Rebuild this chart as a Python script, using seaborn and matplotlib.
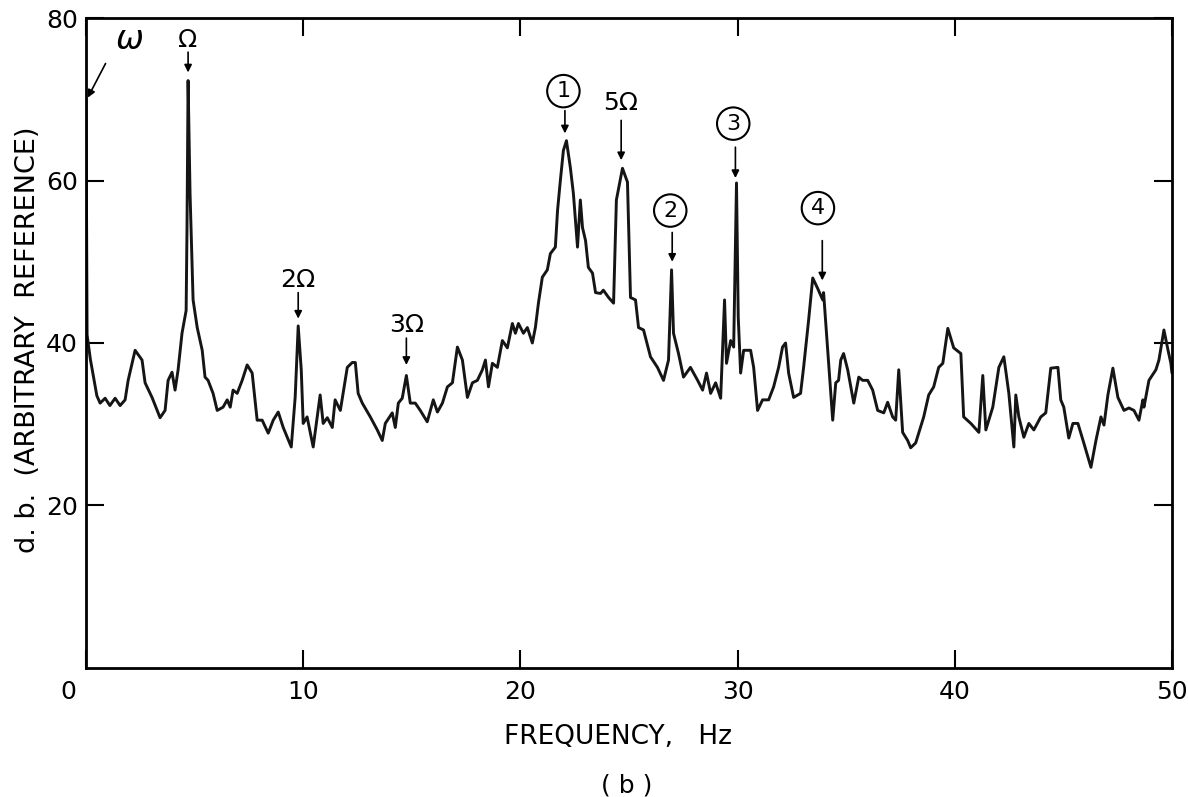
import matplotlib
matplotlib.use("Agg")
import matplotlib.pyplot as plt
import matplotlib.transforms as mtransforms
import seaborn as sns
import pandas as pd

# ---- data (frequency in Hz, level in d.b.) ----
freq = [0.00, 0.05, 0.20, 0.50, 0.65, 0.88, 1.10, 1.34, 1.57, 1.80, 1.94, 2.26, 2.58, 2.72,
        3.04, 3.41, 3.64, 3.78, 3.96, 4.10, 4.24, 4.42, 4.61, 4.65, 4.70, 4.79, 4.93, 5.12,
        5.35, 5.48, 5.62, 5.85, 6.04, 6.31, 6.50, 6.64, 6.77, 6.96, 7.19, 7.42, 7.65, 7.88,
        8.11, 8.39, 8.62, 8.85, 9.08, 9.45, 9.63, 9.77, 9.91, 10.00, 10.18, 10.46, 10.78,
        10.92, 11.11, 11.34, 11.47, 11.71, 12.03, 12.26, 12.40, 12.53, 12.72, 13.09, 13.41,
        13.64, 13.78, 14.10, 14.24, 14.38, 14.56, 14.75, 14.93, 15.16, 15.39, 15.71, 15.99,
        16.18, 16.41, 16.64, 16.87, 17.10, 17.33, 17.56, 17.79, 18.02, 18.25, 18.39, 18.53,
        18.71, 18.94, 19.17, 19.40, 19.63, 19.77, 19.91, 20.14, 20.32, 20.55, 20.69, 20.83,
        21.01, 21.24, 21.38, 21.61, 21.71, 21.84, 21.98, 22.12, 22.30, 22.44, 22.63, 22.76,
        22.86, 23.00, 23.13, 23.32, 23.46, 23.69, 23.82, 24.06, 24.29, 24.42, 24.70, 24.93,
        25.07, 25.30, 25.44, 25.67, 25.99, 26.31, 26.59, 26.82, 26.96, 27.05, 27.28, 27.51,
        27.83, 28.16, 28.39, 28.57, 28.76, 28.99, 29.22, 29.40, 29.49, 29.68, 29.82, 29.95,
        30.03, 30.14, 30.28, 30.60, 30.74, 30.92, 31.15, 31.43, 31.66, 31.89, 32.07, 32.21,
        32.35, 32.58, 32.90, 33.04, 33.27, 33.46, 33.69, 33.92, 33.96, 34.15, 34.38, 34.52,
        34.65, 34.75, 34.88, 35.07, 35.35, 35.58, 35.76, 35.99, 36.22, 36.45, 36.73, 36.91,
        37.14, 37.28, 37.42, 37.60, 37.83, 37.97, 38.20, 38.57, 38.80, 39.03, 39.26, 39.45,
        39.68, 39.95, 40.28, 40.41, 40.74, 41.11, 41.29, 41.43, 41.75, 42.03, 42.26, 42.49,
        42.72, 42.81, 42.95, 43.18, 43.41, 43.64, 43.96, 44.19, 44.42, 44.75, 44.88, 45.02,
        45.25, 45.44, 45.67, 45.94, 46.27, 46.50, 46.73, 46.87, 47.05, 47.28, 47.51, 47.79,
        48.02, 48.25, 48.48, 48.66, 48.71, 48.94, 49.26, 49.40, 49.63, 49.82, 49.95, 50.00]

level = [70.0, 41.0, 38.0, 33.5, 32.6, 33.2, 32.3, 33.2, 32.3, 33.0, 35.4, 39.1, 37.9, 35.1,
         33.3, 30.8, 31.7, 35.4, 36.4, 34.2, 36.7, 41.2, 44.0, 54.2, 72.3, 58.4, 45.3, 41.9,
         39.1, 35.8, 35.4, 33.8, 31.7, 32.1, 33.0, 32.1, 34.2, 33.8, 35.4, 37.3, 36.3, 30.5,
         30.5, 28.9, 30.5, 31.5, 29.6, 27.2, 33.3, 42.1, 36.7, 30.1, 30.9, 27.2, 33.6,
         30.1, 30.8, 29.6, 33.0, 31.7, 37.0, 37.6, 37.6, 33.8, 32.6, 30.9, 29.3,
         28.0, 30.1, 31.4, 29.6, 32.6, 33.2, 36.0, 32.6, 32.6, 31.7, 30.3, 33.0,
         31.5, 32.6, 34.6, 35.1, 39.5, 37.9, 33.3, 35.1, 35.4, 36.7, 37.9, 34.6,
         37.5, 37.0, 40.3, 39.4, 42.4, 41.2, 42.4, 41.2, 41.9, 40.0, 41.9, 44.9,
         48.1, 49.0, 51.0, 51.8, 56.3, 60.0, 63.7, 64.9, 61.6, 58.4, 51.8, 57.6,
         54.2, 52.6, 49.3, 48.6, 46.2, 46.1, 46.5, 45.6, 44.9, 57.6, 61.5, 59.8,
         45.6, 45.3, 41.9, 41.6, 38.3, 37.0, 35.4, 37.9, 49.0, 41.2, 38.7, 35.8,
         37.0, 35.4, 34.2, 36.3, 33.8, 35.1, 33.2, 45.3, 37.5, 40.3, 39.5, 59.7,
         43.2, 36.3, 39.1, 39.1, 37.0, 31.7, 33.0, 33.0, 34.6, 37.0, 39.5, 40.0,
         36.3, 33.3, 33.8, 37.0, 42.8, 48.0, 46.7, 45.3, 46.2, 39.1, 30.5, 35.1,
         35.4, 37.9, 38.7, 36.7, 32.6, 35.8, 35.4, 35.4, 34.2, 31.7, 31.4, 32.7,
         30.9, 30.5, 36.7, 29.0, 28.0, 27.1, 27.7, 30.9, 33.6, 34.6, 37.0, 37.5,
         41.8, 39.4, 38.7, 30.9, 30.1, 29.0, 36.0, 29.3, 32.1, 37.0, 38.3, 33.8,
         27.2, 33.6, 30.9, 28.4, 30.1, 29.3, 30.9, 31.4, 36.9, 37.0, 33.0, 32.1,
         28.3, 30.1, 30.1, 27.7, 24.7, 28.0, 30.9, 29.9, 33.6, 36.9, 33.3, 31.7,
         32.0, 31.7, 30.5, 33.0, 32.1, 35.4, 36.7, 37.9, 41.6, 39.1, 37.5, 36.3]

x_ticks = [0, 10, 20, 30, 40, 50]
x_tick_labels = ["0", "10", "20", "30", "40", "50"]
y_ticks = [20, 40, 60, 80]
y_tick_labels = ["20", "40", "60", "80"]

# peak annotations
peak_labels = ["Ω", "2Ω", "3Ω", "1", "5Ω", "2", "3", "4"]
peak_x = [4.70, 9.77, 14.75, 22.05, 24.64, 26.99, 29.90, 33.90]
peak_text_x = [4.70, 9.77, 14.75, 21.98, 24.60, 26.90, 29.80, 33.70]
peak_text_y = [77.3, 47.7, 42.2, 71.0, 69.5, 56.3, 67.0, 56.6]
arrow_top = [75.8, 46.2, 40.6, 68.6, 67.4, 53.6, 64.1, 52.6]
arrow_tip = [73.3, 43.0, 37.3, 65.8, 62.5, 50.0, 60.3, 47.7]
circled = [False, False, False, True, False, True, True, True]

df = pd.DataFrame({"freq": freq, "level": level})

sns.set_theme(style="ticks")
plt.rcParams["font.family"] = ["DejaVu Sans"]
plt.rcParams["text.color"] = "black"
plt.rcParams["axes.labelcolor"] = "black"

fig = plt.figure(figsize=(11.88, 7.97), dpi=100)
ax = fig.add_axes([0.0724, 0.1619, 0.9141, 0.8155])

sns.lineplot(data=df, x="freq", y="level", ax=ax, color="#151515", lw=2.1,
             estimator=None, sort=False)

ax.set_xlim(0, 50)
ax.set_ylim(0, 80)
ax.set_xticks(x_ticks)
ax.set_xticklabels(x_tick_labels)
ax.set_yticks(y_ticks)
ax.set_yticklabels(y_tick_labels)
ax.tick_params(axis="both", which="both", direction="in", length=13, width=1.5,
               top=True, right=True, labelsize=18, colors="black")
ax.tick_params(axis="x", pad=9)
ax.tick_params(axis="y", pad=6)
for s in ax.spines.values():
    s.set_linewidth(2.0)
    s.set_color("black")

# the "0" label sits a little left of the origin in the reference
zero_lab = ax.get_xticklabels()[0]
zero_lab.set_transform(zero_lab.get_transform() +
                       mtransforms.ScaledTranslation(-18 / 100, 0, fig.dpi_scale_trans))

ax.set_xlabel("FREQUENCY,   Hz", fontsize=19, color="black")
ax.xaxis.set_label_coords(0.49, -0.086)
ax.set_ylabel("d. b.  (ARBITRARY  REFERENCE)", fontsize=19.5, color="black")
ax.yaxis.set_label_coords(-0.041, 0.505)

fig.text(627 / 1188, 1 - 785 / 797, "( b )", fontsize=18, ha="center", va="center")

arrow_kw = dict(arrowstyle="-|>", color="black", lw=1.2, mutation_scale=11,
                shrinkA=0, shrinkB=0)
for lab, ax_x, tx, ty, a0, a1, circ in zip(peak_labels, peak_x, peak_text_x, peak_text_y,
                                          arrow_top, arrow_tip, circled):
    if circ:
        ax.text(tx, ty, lab, ha="center", va="center", fontsize=16,
                bbox=dict(boxstyle="circle,pad=0.28", fc="none", ec="black", lw=1.5))
    else:
        ax.text(tx, ty, lab, ha="center", va="center", fontsize=18)
    ax.annotate("", xy=(ax_x, a1), xytext=(ax_x, a0), arrowprops=arrow_kw)

# omega (rotation) marker at the origin
ax.text(2.0, 77.3, "ω", ha="center", va="center", fontsize=24, style="italic")
ax.annotate("", xy=(0.08, 70.2), xytext=(0.9, 74.4), arrowprops=arrow_kw)

fig.savefig("out.png", dpi=100, facecolor="white")
